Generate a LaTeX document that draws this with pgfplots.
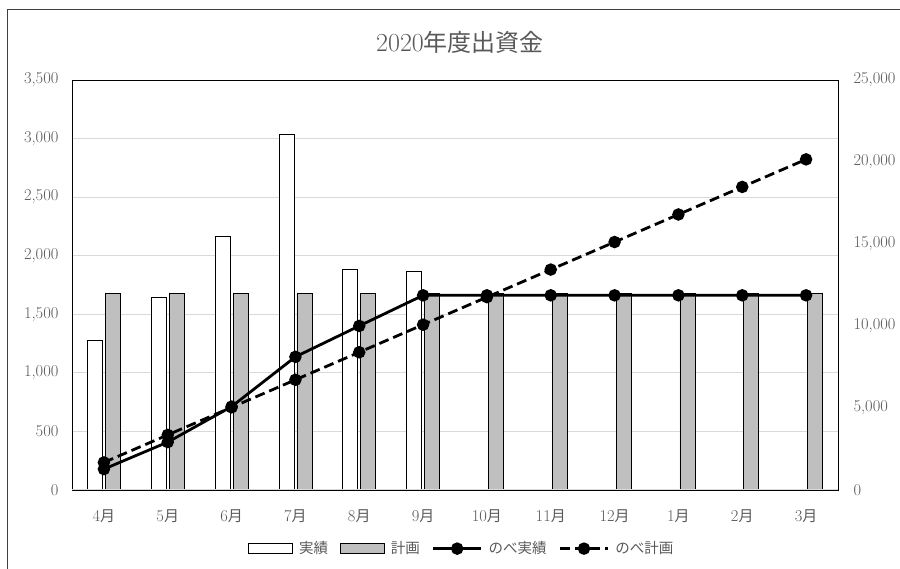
\documentclass[border=0pt]{standalone}
\usepackage{pgfplots}
\pgfplotsset{compat=1.18}
\usepackage{fontspec}
\newfontfamily\cjk{Noto Sans CJK JP}
\definecolor{txt}{HTML}{595959}
\definecolor{gridc}{HTML}{D9D9D9}
\definecolor{plan}{HTML}{BFBFBF}
\newcommand\tk{\fontsize{16.5}{16.5}\selectfont}
\newcommand\legfont{\fontsize{14.5}{14.5}\selectfont}
\newcommand\M{{\cjk\fontsize{15}{15}\selectfont 月}}

\pgfplotsset{
  boxlegend/.style={legend image code/.code={\draw[##1] (0pt,-5pt) rectangle (44pt,5pt);}},
  linelegend/.style={legend image code/.code={\draw[mark repeat=2,mark phase=2,##1] plot coordinates {(0pt,0pt) (24pt,0pt) (48pt,0pt)};}},
  base/.style={at={(72pt,79pt)}, anchor=south west, scale only axis,
    width=766pt, height=410pt, xmin=-0.5, xmax=11.5,
    major tick length=0, tick label style={txt, font=\tk},
    /pgf/number format/assume math mode=true,
    /pgf/number format/1000 sep={,},
    scaled y ticks=false,
    axis line style={line width=0.7pt}},
}

\begin{document}
\begin{tikzpicture}[x=1pt,y=1pt]
\useasboundingbox (0pt,0pt) rectangle (900pt,569pt);
\clip (0pt,0pt) rectangle (900pt,569pt);
\draw[black!75, line width=0.8pt] (7pt,-5pt) |- (905pt,560pt);
\node[txt, font=\cjk\fontsize{24}{24}\selectfont] at (460pt,527pt) {{\rmfamily\fontsize{26}{26}\selectfont 2020}年度出資金};

\begin{axis}[base,
  ymin=0, ymax=3500, ytick={0,500,...,3500},
  xtick={0,...,11},
  xticklabels={4\M,5\M,6\M,7\M,8\M,9\M,10\M,11\M,12\M,1\M,2\M,3\M},
  ybar=3pt, bar width=15pt,
  ymajorgrids, major grid style={gridc, line width=0.8pt},
  yticklabel style={xshift=-10pt},
  xticklabel style={yshift=-16pt},
]
\addplot[draw=black, fill=white, line width=0.7pt] coordinates {(0,1275) (1,1645) (2,2165) (3,3035) (4,1885) (5,1865)};
\addplot[draw=black, fill=plan, line width=0.7pt] coordinates {(0,1680) (1,1680) (2,1680) (3,1680) (4,1680) (5,1680) (6,1680) (7,1680) (8,1680) (9,1680) (10,1680) (11,1680)};
\draw[gridc, line width=1.2pt] (rel axis cs:0,0) -- (rel axis cs:1,0);
\end{axis}

\begin{axis}[base,
  ymin=0, ymax=25000, ytick={0,5000,...,25000},
  axis x line=none, axis y line*=right,
  yticklabel style={xshift=12pt},
  legend style={at={(0.509,-0.143)}, anchor=center, draw=none, fill=none,
    legend columns=4, font=\cjk\legfont, text=txt,
    /tikz/every odd column/.append style={column sep=4pt},
    /tikz/every even column/.append style={column sep=10pt}},
  legend cell align=left,
]
\addlegendimage{boxlegend, draw=black, fill=white, line width=0.7pt}
\addlegendentry{実績}
\addlegendimage{boxlegend, draw=black, fill=plan, line width=0.7pt}
\addlegendentry{計画}
\addplot[linelegend, black, line width=2.8pt, mark=*, mark size=4.8pt] coordinates {(0,1275) (1,2920) (2,5085) (3,8120) (4,10005) (5,11870) (6,11870) (7,11870) (8,11870) (9,11870) (10,11870) (11,11870)};
\addlegendentry{のべ実績}
\addplot[linelegend, black, line width=2.8pt, dash pattern=on 10pt off 5pt, mark=*, mark size=4.8pt, mark options={solid}] coordinates {(0,1680) (1,3360) (2,5040) (3,6720) (4,8400) (5,10080) (6,11760) (7,13440) (8,15120) (9,16800) (10,18480) (11,20160)};
\addlegendentry{のべ計画}
\end{axis}
\end{tikzpicture}
\end{document}
